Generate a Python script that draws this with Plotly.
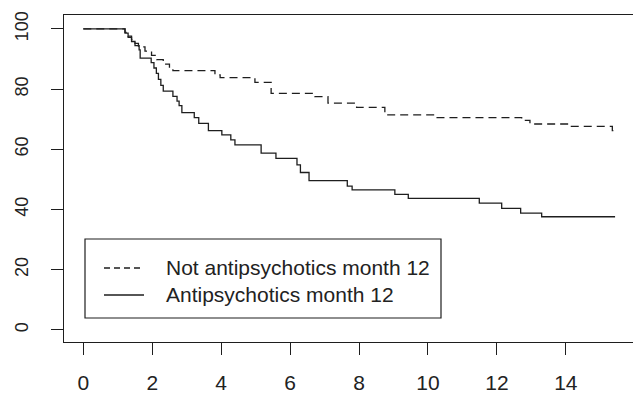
import plotly.graph_objects as go

# Kaplan-Meier style step data (time in months, survival %)
not_anti_t = [0, 1.21, 1.30, 1.40, 1.50, 1.60, 1.79, 1.98, 2.13, 2.32, 2.50, 2.60, 3.82, 3.97,
              4.98, 5.45, 6.72, 7.10, 7.93, 8.75, 10.20, 12.72, 12.96, 14.12, 15.35, 15.38]
not_anti_s = [100, 98.8, 97.6, 96.4, 95.2, 94.0, 92.6, 91.2, 89.8, 88.3, 86.8, 86.1, 84.7, 83.8,
              82.2, 78.6, 77.5, 75.3, 73.9, 71.4, 70.5, 69.6, 68.4, 67.6, 66.2, 66.2]

anti_t = [0, 1.21, 1.30, 1.40, 1.50, 1.62, 1.65, 1.97, 2.05, 2.12, 2.18, 2.25, 2.32, 2.60, 2.72,
          2.78, 2.86, 3.22, 3.35, 3.63, 4.02, 4.28, 4.40, 5.16, 5.59, 6.20, 6.30, 6.55, 7.66,
          7.80, 9.04, 9.43, 11.49, 12.14, 12.69, 13.30, 15.43]
anti_s = [100, 98.6, 97.2, 95.8, 94.4, 93.0, 90.3, 88.8, 87.0, 85.2, 83.2, 81.2, 79.3, 77.6, 76.0,
          74.5, 72.2, 70.5, 68.6, 66.2, 64.8, 63.1, 61.5, 58.7, 57.0, 54.8, 52.3, 49.6, 47.8,
          46.5, 45.0, 43.7, 42.1, 40.4, 38.8, 37.6, 37.6]

x_ticks = [0, 2, 4, 6, 8, 10, 12, 14]
y_ticks = [0, 20, 40, 60, 80, 100]
legend_labels = ["Not antipsychotics month 12", "Antipsychotics month 12"]

W, H = 633, 394
ML, MR, MT, MB = 64, 0, 15, 52
PW, PH = W - ML - MR, H - MT - MB

def px(x):
    return (x - ML) / PW

def py(y):
    return (H - MB - y) / PH

LINE = "#1e1e1e"
TXT = "#222222"

fig = go.Figure()
fig.add_trace(go.Scatter(x=not_anti_t, y=not_anti_s, mode="lines", line_shape="hv",
                         line=dict(color=LINE, width=1.3, dash="8px,5px"),
                         name=legend_labels[0], showlegend=False))
fig.add_trace(go.Scatter(x=anti_t, y=anti_s, mode="lines", line_shape="hv",
                         line=dict(color=LINE, width=1.3),
                         name=legend_labels[1], showlegend=False))

# legend box drawn manually (R style)
fig.add_shape(type="rect", xref="paper", yref="paper",
              x0=px(85), x1=px(441), y0=py(318), y1=py(239),
              line=dict(color=LINE, width=1.2), fillcolor="rgba(0,0,0,0)")
fig.add_shape(type="line", xref="paper", yref="paper",
              x0=px(104), x1=px(144), y0=py(268), y1=py(268),
              line=dict(color=LINE, width=1.3, dash="6px,4px"))
fig.add_shape(type="line", xref="paper", yref="paper",
              x0=px(104), x1=px(144), y0=py(295), y1=py(295),
              line=dict(color=LINE, width=1.3))
for lab, yy in zip(legend_labels, [267.5, 294.5]):
    fig.add_annotation(text=lab, xref="paper", yref="paper", x=px(164), y=py(yy),
                       xanchor="left", yanchor="middle", showarrow=False,
                       font=dict(family="Liberation Sans, Arial, sans-serif", size=21, color=TXT))

fig.update_layout(
    width=W, height=H,
    margin=dict(l=ML, r=MR, t=MT, b=MB, pad=0),
    paper_bgcolor="white", plot_bgcolor="white",
    showlegend=False,
)
fig.update_xaxes(range=[-0.56, 15.95], tickmode="array", tickvals=x_ticks,
                 ticktext=[str(v) for v in x_ticks],
                 showgrid=False, zeroline=False, showline=True, mirror=True,
                 linecolor=LINE, linewidth=1.2, ticks="outside", ticklen=12,
                 tickwidth=1.2, tickcolor=LINE, ticklabelstandoff=10,
                 tickfont=dict(family="Liberation Sans, Arial, sans-serif", size=21, color=TXT))
fig.update_yaxes(range=[-4, 104.6], tickmode="array", tickvals=y_ticks,
                 ticktext=[str(v) for v in y_ticks], tickangle=-90,
                 showgrid=False, zeroline=False, showline=True, mirror=False,
                 linecolor=LINE, linewidth=1.2, ticks="outside", ticklen=12,
                 tickwidth=1.2, tickcolor=LINE, ticklabelstandoff=16,
                 tickfont=dict(family="Liberation Sans Narrow, Arial Narrow, Liberation Sans, sans-serif",
                               size=18, color=TXT))

fig.write_html("out.html", config={"displayModeBar": False},
               post_script="document.body.style.margin='0px';document.body.style.overflow='hidden';")
